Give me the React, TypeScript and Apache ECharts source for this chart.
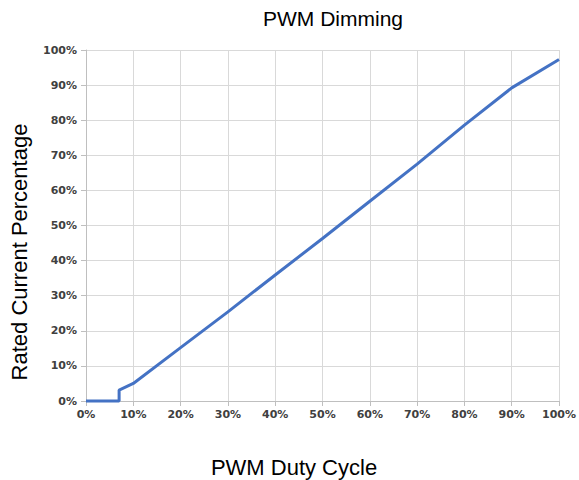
import React, { useEffect, useRef } from "react";
import * as echarts from "echarts";

const dutyCycle = [0, 7, 7, 10, 20, 30, 40, 50, 60, 70, 80, 90, 100];
const ratedCurrent = [0, 0, 3.1, 5, 15.2, 25.4, 35.9, 46.3, 56.9, 67.5, 78.6, 89.2, 97.3];
const chartTitle = "PWM Dimming";
const xTitle = "PWM Duty Cycle";
const yTitle = "Rated Current Percentage";

export default function App() {
  const ref = useRef<HTMLDivElement>(null);
  useEffect(() => {
    if (!ref.current) return;
    const chart = echarts.init(ref.current, undefined, { renderer: "svg" });
    const labelStyle = {
      fontFamily: "DejaVu Sans",
      fontWeight: "bold" as const,
      fontSize: 11,
      color: "#404040",
      formatter: "{value}%",
    };
    chart.setOption({
      animation: false,
      backgroundColor: "#ffffff",
      grid: { left: 86, right: 18, top: 50, bottom: 79, containLabel: false },
      xAxis: {
        type: "value",
        min: 0,
        max: 100,
        interval: 10,
        axisLine: { show: true, lineStyle: { color: "#bfbfbf", width: 1 } },
        axisTick: { show: true, length: 5, lineStyle: { color: "#bfbfbf" } },
        splitLine: { show: true, lineStyle: { color: "#d9d9d9", width: 1 } },
        axisLabel: { ...labelStyle, margin: 8 },
      },
      yAxis: {
        type: "value",
        min: 0,
        max: 100,
        interval: 10,
        axisLine: { show: true, lineStyle: { color: "#bfbfbf", width: 1 } },
        axisTick: { show: true, length: 5, lineStyle: { color: "#bfbfbf" } },
        splitLine: { show: true, lineStyle: { color: "#d9d9d9", width: 1 } },
        axisLabel: { ...labelStyle, margin: 9 },
      },
      series: [
        {
          type: "line",
          data: dutyCycle.map((x, i) => [x, ratedCurrent[i]]),
          showSymbol: false,
          symbol: "none",
          lineStyle: { color: "#4472C4", width: 3 },
          itemStyle: { color: "#4472C4" },
          clip: false,
        },
      ],
      graphic: [
        {
          type: "text",
          x: 333,
          y: 18,
          style: {
            text: chartTitle,
            fontFamily: "Liberation Sans",
            fontSize: 21,
            fill: "#000000",
            textAlign: "center",
            textVerticalAlign: "middle",
          },
        },
        {
          type: "text",
          x: 294,
          y: 467,
          style: {
            text: xTitle,
            fontFamily: "Liberation Sans",
            fontSize: 22,
            fill: "#000000",
            textAlign: "center",
            textVerticalAlign: "middle",
          },
        },
        {
          type: "text",
          x: 19,
          y: 252,
          rotation: Math.PI / 2,
          style: {
            text: yTitle,
            fontFamily: "Liberation Sans",
            fontSize: 22,
            fill: "#000000",
            textAlign: "center",
            textVerticalAlign: "middle",
          },
        },
      ],
    });
    return () => chart.dispose();
  }, []);
  return <div ref={ref} style={{ width: 579, height: 480, position: "absolute", left: 0, top: 0 }} />;
}
